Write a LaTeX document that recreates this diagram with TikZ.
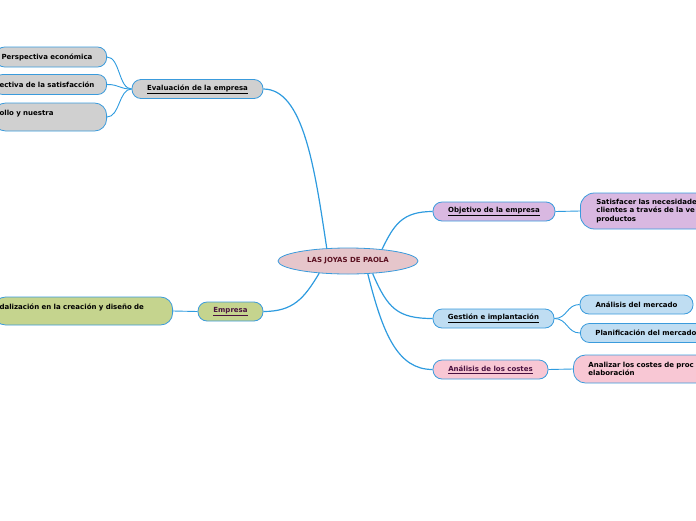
\documentclass[tikz,border=0pt]{standalone}
\usepackage{fontspec}
\setmainfont{DejaVu Sans}
\usetikzlibrary{shapes.geometric}
\definecolor{edgeblue}{HTML}{3A9BDC}
\definecolor{linkblue}{HTML}{2E9BDF}
\definecolor{rootfill}{HTML}{E6C6CB}
\definecolor{roottext}{HTML}{5A1020}
\definecolor{grayfill}{HTML}{D0D0D0}
\definecolor{greenfill}{HTML}{C5D48E}
\definecolor{purplefill}{HTML}{D9B8E1}
\definecolor{bluefill}{HTML}{BFDDF2}
\definecolor{pinkfill}{HTML}{F8C7D4}
\definecolor{darktext}{HTML}{4A1040}

\begin{document}
\begin{tikzpicture}[x=1pt, y=-1pt,
  topic/.style={draw=edgeblue, line width=0.8pt, rounded corners=9pt,
    minimum height=19pt, inner sep=0pt,
    font=\fontsize{7}{8.6}\selectfont\bfseries},
  leaf/.style={topic, align=left, inner xsep=#1},
  link/.style={draw=linkblue, line width=0.9pt}]
  \path[use as bounding box, clip] (0,0) rectangle (696,520);

  % Central topic
  \node[ellipse, draw=edgeblue, line width=0.8pt, fill=rootfill, text=roottext,
    minimum width=140pt, minimum height=26pt, inner sep=0pt,
    font=\fontsize{7}{8.6}\selectfont\bfseries] (root) at (348,261) {LAS JOYAS DE PAOLA};

  % Left branches
  \node[topic, fill=grayfill, minimum width=131pt] (evalE) at (197.5,89) {\underline{Evaluación de la empresa}};
  \node[leaf=6pt, fill=grayfill, anchor=east, text width=99pt, minimum height=20pt] (persEco) at (107,57) {Perspectiva económica};
  \node[leaf=6pt, fill=grayfill, anchor=east, text width=101pt, minimum height=20pt] (persSat) at (107,84.5) {ectiva de la satisfacción};
  \node[leaf=6pt, fill=grayfill, anchor=east, text width=101pt, minimum height=28pt, rounded corners=12pt] (desarrollo) at (107,117) {ollo y nuestra\\\mbox{}};

  \node[topic, fill=greenfill, text=darktext, minimum width=65pt] (empresa) at (230.5,311.5) {\underline{Empresa}};
  \node[leaf=6pt, fill=greenfill, anchor=east, text width=167pt, minimum height=28pt, rounded corners=12pt] (especial) at (173,311) {dalización en la creación y diseño de\\\mbox{}};

  % Right branches
  \node[topic, fill=purplefill, minimum width=122pt] (objetivo) at (494,211.5) {\underline{Objetivo de la empresa}};
  \node[leaf=16pt, fill=purplefill, anchor=west, text width=130pt, minimum height=36pt, rounded corners=14pt] (satisfacer) at (580,211) {Satisfacer las necesidade\\clientes a través de la ve\\productos};

  \node[topic, fill=bluefill, minimum width=121pt] (gestion) at (493.5,318.5) {\underline{Gestión e implantación}};
  \node[topic, fill=bluefill, minimum width=113pt] (anMercado) at (636.5,304.5) {Análisis del mercado};
  \node[leaf=15pt, fill=bluefill, anchor=west, text width=120pt] (planMercado) at (580,333) {Planificación del mercado};

  \node[topic, fill=pinkfill, text=darktext, minimum width=115pt] (costes) at (490.5,369.5) {\underline{Análisis de los costes}};
  \node[leaf=15pt, fill=pinkfill, anchor=west, text width=130pt, minimum height=28pt, rounded corners=12pt] (analizar) at (573,369) {Analizar los costes de proc\\elaboración};

  % Connectors from the centre
  \draw[link, line width=1.2pt] (root.149) .. controls +(-12,-80) and +(40,0) .. (evalE.east);
  \draw[link, line width=1.2pt] (root.203) .. controls +(-15,25) and +(30,0) .. (empresa.east);
  \draw[link, line width=1.2pt] (root.19) .. controls +(12,-25) and +(-30,0) .. (objetivo.west);
  \draw[link, line width=1.2pt] (root.333) .. controls +(15,35) and +(-35,0) .. (gestion.west);
  \draw[link, line width=1.2pt] (root.327) .. controls +(15,60) and +(-35,0) .. (costes.west);

  % Sub-branches
  \draw[link] (evalE.west) .. controls +(-13,0) and +(13,0) .. (persEco.east);
  \draw[link] (evalE.west) .. controls +(-13,0) and +(13,0) .. (persSat.east);
  \draw[link] (evalE.west) .. controls +(-13,0) and +(13,0) .. (desarrollo.east);
  \draw[link] (empresa.west) -- (especial.east);
  \draw[link] (objetivo.east) -- (satisfacer.west);
  \draw[link] (gestion.east) .. controls +(13,0) and +(-13,0) .. (anMercado.west);
  \draw[link] (gestion.east) .. controls +(13,0) and +(-13,0) .. (planMercado.west);
  \draw[link] (costes.east) -- (analizar.west);
\end{tikzpicture}
\end{document}
